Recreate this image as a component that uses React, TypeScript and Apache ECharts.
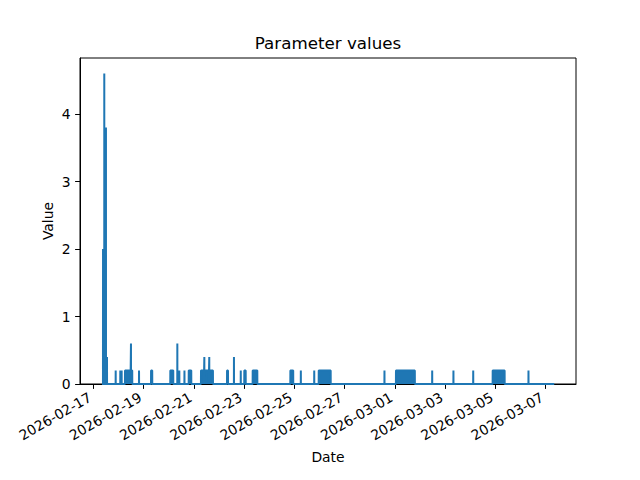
import React, { useEffect, useRef } from "react";
import * as echarts from "echarts";

// Series range (first and last sample, value 0 outside pulses)
const dataStart = "2026-02-17 08:06";
const dataEnd = "2026-03-07 08:12";

// Pulses: start time, end time (same as start for a single spike), value
const pulseStart = [
  "2026-02-17 09:06", "2026-02-17 10:18", "2026-02-17 11:54", "2026-02-17 12:54",
  "2026-02-17 21:12", "2026-02-18 01:36", "2026-02-18 02:54", "2026-02-18 06:06",
  "2026-02-18 11:48", "2026-02-18 12:18", "2026-02-18 19:30", "2026-02-19 07:00",
  "2026-02-20 01:24", "2026-02-20 08:06", "2026-02-20 10:00", "2026-02-20 14:54",
  "2026-02-20 19:00", "2026-02-21 06:42", "2026-02-21 09:54", "2026-02-21 10:24",
  "2026-02-21 14:36", "2026-02-21 15:06", "2026-02-22 07:36", "2026-02-22 14:12",
  "2026-02-22 20:42", "2026-02-23 00:06", "2026-02-23 08:06", "2026-02-24 20:06",
  "2026-02-25 06:06", "2026-02-25 18:54", "2026-02-25 23:12", "2026-02-28 14:00",
  "2026-03-01 01:00", "2026-03-02 11:36", "2026-03-03 07:54", "2026-03-04 02:48",
  "2026-03-04 21:24", "2026-03-06 07:36",
];
const pulseEnd = [
  "2026-02-17 09:06", "2026-02-17 10:18", "2026-02-17 11:54", "2026-02-17 12:54",
  "2026-02-17 21:12", "2026-02-18 01:36", "2026-02-18 02:54", "2026-02-18 11:18",
  "2026-02-18 11:48", "2026-02-18 13:00", "2026-02-18 19:30", "2026-02-19 08:06",
  "2026-02-20 04:12", "2026-02-20 08:06", "2026-02-20 10:00", "2026-02-20 14:54",
  "2026-02-20 21:24", "2026-02-21 09:24", "2026-02-21 09:54", "2026-02-21 14:06",
  "2026-02-21 14:36", "2026-02-21 18:06", "2026-02-22 08:30", "2026-02-22 14:12",
  "2026-02-22 20:42", "2026-02-23 01:24", "2026-02-23 12:30", "2026-02-24 22:48",
  "2026-02-25 06:06", "2026-02-25 18:54", "2026-02-26 10:36", "2026-02-28 14:00",
  "2026-03-01 19:00", "2026-03-02 11:36", "2026-03-03 07:54", "2026-03-04 02:48",
  "2026-03-05 08:48", "2026-03-06 07:36",
];
const pulseValue = [
  2.0, 4.6, 3.8, 0.4,
  0.2, 0.2, 0.2, 0.2,
  0.6, 0.2, 0.2, 0.2,
  0.2, 0.6, 0.2, 0.2,
  0.2, 0.2, 0.4, 0.2,
  0.4, 0.2, 0.2, 0.4,
  0.2, 0.2, 0.2, 0.2,
  0.2, 0.2, 0.2, 0.2,
  0.2, 0.2, 0.2, 0.2,
  0.2, 0.2,
];

// Axis limits and tick labels
const xMin = "2026-02-16 11:06";
const xMax = "2026-03-08 05:00";
const xTickLabels = [
  "2026-02-17", "2026-02-19", "2026-02-21", "2026-02-23", "2026-02-25",
  "2026-02-27", "2026-03-01", "2026-03-03", "2026-03-05", "2026-03-07",
];
const yMax = 4.83;
const yTicks = [0, 1, 2, 3, 4];

function parseLocal(s: string): number {
  const [d, t] = s.split(" ");
  const [y, m, day] = d.split("-").map(Number);
  const [hh, mm] = (t || "00:00").split(":").map(Number);
  return new Date(y, m - 1, day, hh, mm).getTime();
}

function pad(n: number) {
  return n < 10 ? "0" + n : "" + n;
}

function buildSeries(): [number, number][] {
  const eps = 3 * 60 * 1000;
  const pts: [number, number][] = [[parseLocal(dataStart), 0]];
  for (let i = 0; i < pulseStart.length; i++) {
    const a = parseLocal(pulseStart[i]);
    const b = parseLocal(pulseEnd[i]);
    const v = pulseValue[i];
    pts.push([a - eps, 0]);
    pts.push([a, v]);
    if (b > a) pts.push([b, v]);
    pts.push([b + eps, 0]);
  }
  pts.push([parseLocal(dataEnd), 0]);
  return pts;
}

const FONT = "DejaVu Sans";

export default function App() {
  const ref = useRef<HTMLDivElement>(null);
  useEffect(() => {
    if (!ref.current) return;
    const chart = echarts.init(ref.current, null, { renderer: "svg" });
    const tickVals = xTickLabels.map((s) => parseLocal(s));
    chart.setOption({
      animation: false,
      backgroundColor: "#ffffff",
      textStyle: { fontFamily: FONT },
      title: {
        text: "Parameter values",
        left: 323,
        top: 29,
        textAlign: "center",
        textStyle: { fontFamily: FONT, fontSize: 16.7, fontWeight: "normal", color: "#000" },
      },
      grid: {
        left: 80,
        right: 64,
        top: 58,
        bottom: 96,
        containLabel: false,
        show: true,
        borderColor: "#000",
        borderWidth: 1,
        backgroundColor: "transparent",
      },
      xAxis: {
        type: "value",
        min: parseLocal(xMin),
        max: parseLocal(xMax),
        name: "Date",
        nameLocation: "middle",
        nameGap: 66,
        nameMoveOverlap: false,
        nameTextStyle: { fontFamily: FONT, fontSize: 13.9, color: "#000" },
        axisLine: { show: true, onZero: false, lineStyle: { color: "#000", width: 1 } },
        axisTick: {
          show: true,
          inside: false,
          length: 4.9,
          lineStyle: { color: "#000", width: 1 },
          customValues: tickVals,
        },
        axisLabel: {
          show: true,
          rotate: 30,
          margin: 10,
          padding: [0, 4, 0, 0],
          fontFamily: FONT,
          fontSize: 13.9,
          color: "#000",
          customValues: tickVals,
          formatter: (val: number) => {
            const d = new Date(val);
            return d.getFullYear() + "-" + pad(d.getMonth() + 1) + "-" + pad(d.getDate());
          },
        },
        splitLine: { show: false },
      },
      yAxis: {
        type: "value",
        min: 0,
        max: yMax,
        name: "Value",
        nameLocation: "middle",
        nameGap: 25,
        nameMoveOverlap: false,
        nameTextStyle: { fontFamily: FONT, fontSize: 13.9, color: "#000" },
        axisLine: { show: true, lineStyle: { color: "#000", width: 1 } },
        axisTick: {
          show: true,
          inside: false,
          length: 4.9,
          lineStyle: { color: "#000", width: 1 },
          customValues: yTicks,
        },
        axisLabel: {
          show: true,
          margin: 9.5,
          fontFamily: FONT,
          fontSize: 13.9,
          color: "#000",
          customValues: yTicks,
          formatter: (v: number) => String(v),
        },
        splitLine: { show: false },
      },
      series: [
        {
          type: "line",
          data: buildSeries(),
          showSymbol: false,
          symbol: "none",
          clip: false,
          lineStyle: { color: "#1f77b4", width: 2 },
          itemStyle: { color: "#1f77b4" },
          areaStyle: { color: "#1f77b4", opacity: 1 },
        },
      ],
    });
    return () => chart.dispose();
  }, []);
  return (
    <div
      ref={ref}
      style={{ position: "absolute", left: 0, top: 0, width: 640, height: 480 }}
    />
  );
}
